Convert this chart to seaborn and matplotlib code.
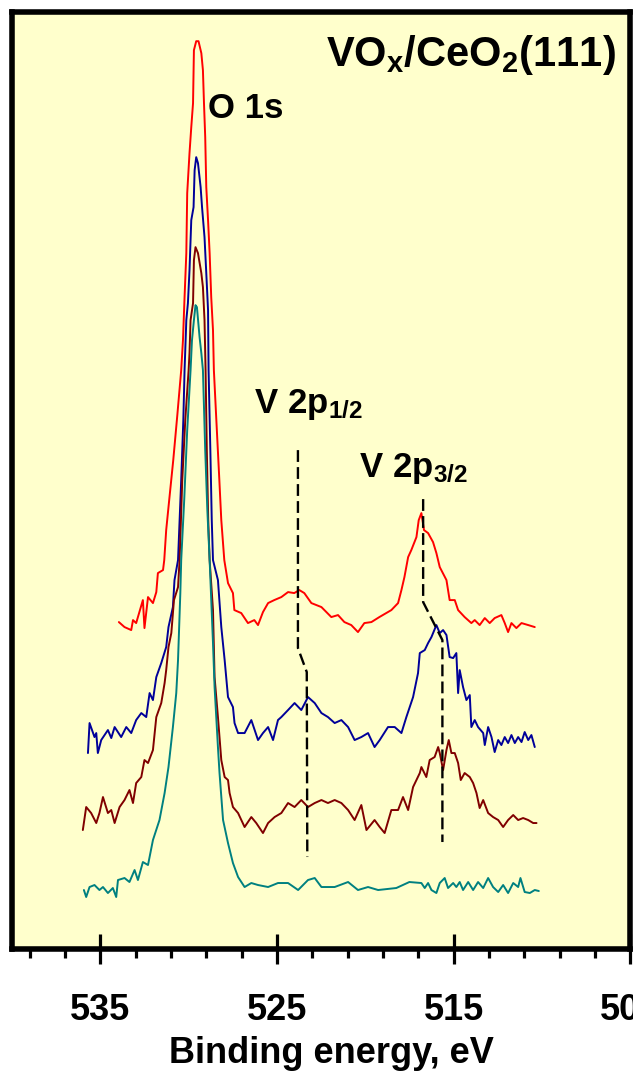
import matplotlib
matplotlib.use("Agg")
import matplotlib.pyplot as plt
import numpy as np
import pandas as pd
import seaborn as sns

sns.set_style("white")
plt.rcParams["font.family"] = ["Liberation Sans", "DejaVu Sans"]
plt.rcParams["font.weight"] = "bold"
plt.rcParams["text.color"] = "black"
plt.rcParams["axes.labelcolor"] = "black"
plt.rcParams["xtick.color"] = "black"
plt.rcParams["xtick.labelcolor"] = "black"
plt.rcParams["mathtext.fontset"] = "custom"
plt.rcParams["mathtext.bf"] = "Liberation Sans:bold"
plt.rcParams["mathtext.rm"] = "Liberation Sans:bold"
plt.rcParams["mathtext.it"] = "Liberation Sans:bold"

# ---- XPS spectra (binding energy in eV, intensity in arb. units incl. stacking offset) ----
red_ev = [533.96, 533.64, 533.26, 533.16, 532.98, 532.60, 532.51, 532.31, 532.03, 531.84, 531.75, 531.46, 531.39, 531.28, 531.11, 530.88, 530.65, 530.43, 530.33, 530.24, 530.14, 530.09, 529.96, 529.86, 529.76, 529.71, 529.58, 529.45, 529.29, 529.20, 529.14, 529.07, 529.01, 528.91, 528.82, 528.73, 528.63, 528.58, 528.44, 528.27, 528.16, 527.99, 527.78, 527.50, 527.42, 527.03, 526.65, 526.29, 526.08, 525.80, 525.51, 525.16, 524.76, 524.38, 524.03, 523.74, 523.46, 523.06, 522.49, 521.93, 521.55, 521.19, 520.80, 520.42, 520.06, 519.66, 519.21, 518.53, 518.15, 517.96, 517.79, 517.58, 517.40, 517.11, 516.98, 516.83, 516.68, 516.45, 516.17, 515.98, 515.79, 515.41, 515.23,
          514.94, 514.75, 514.38, 514.00, 513.81, 513.53, 513.24, 512.96, 512.68, 512.30, 512.11, 511.92, 511.73, 511.45, 511.16, 510.78, 510.41]
red_int = [327, 322, 319, 329, 326, 349, 321, 352, 346, 357, 376, 379, 389, 419, 449, 489, 534, 579, 609, 652, 696, 756, 796, 822, 846, 899, 908, 908, 896, 879, 846, 812, 762, 729, 696, 652, 619, 579, 529, 469, 429, 389, 366, 356, 339, 336, 326, 329, 324, 337, 346, 349, 352, 357, 356, 359, 356, 346, 342, 332, 334, 327, 324, 317, 326, 327, 332, 339, 346, 359, 372, 392, 399, 412, 429, 436, 419, 416, 407, 396, 382, 369, 349,
           349, 339, 332, 326, 329, 324, 331, 326, 331, 334, 326, 317, 326, 321, 326, 324, 322]

blue_ev = [535.71, 535.62, 535.34, 535.24, 535.15, 534.96, 534.58, 534.39, 534.20, 533.83, 533.54, 533.26, 532.98, 532.69, 532.41, 532.22, 532.03, 531.84, 531.56, 531.28, 531.15, 530.90, 530.81, 530.61, 530.43, 530.31, 530.24, 530.14, 530.05, 529.96, 529.86, 529.73, 529.67, 529.58, 529.48, 529.33, 529.25, 529.11, 529.01, 528.91, 528.88, 528.78, 528.70, 528.63, 528.35, 528.16, 527.97, 527.78, 527.50, 527.41, 527.21, 526.84, 526.46, 526.08, 525.80, 525.51, 525.23, 524.95, 524.76, 524.38, 524.01, 523.63, 523.25, 522.87, 522.49, 522.12, 521.74, 521.36, 520.98, 520.61, 520.23, 519.85, 519.48, 519.19, 518.72, 518.34, 517.96, 517.68, 517.30, 517.02, 516.92,
           516.64, 516.45, 516.26, 515.98, 515.79, 515.60, 515.41, 515.23, 515.03, 514.85, 514.75, 514.66, 514.47, 514.28, 514.09, 514.00, 513.81, 513.62, 513.33, 513.24, 513.05, 512.86, 512.68, 512.48, 512.30, 512.11, 511.92, 511.73, 511.54, 511.35, 511.16, 510.98, 510.78, 510.60, 510.41]
blue_int = [196, 226, 212, 216, 196, 209, 219, 211, 222, 212, 222, 216, 229, 236, 232, 256, 249, 272, 286, 302, 322, 342, 369, 389, 469, 529, 579, 629, 646, 679, 729, 742, 779, 792, 786, 762, 742, 712, 676, 639, 579, 499, 429, 389, 369, 322, 289, 252, 242, 226, 216, 216, 229, 209, 216, 222, 209, 229, 232, 239, 246, 239, 252, 246, 236, 232, 226, 229, 222, 209, 212, 216, 202, 209, 222, 222, 216, 232, 252, 276, 296,
            299, 306, 312, 324, 316, 319, 314, 292, 291, 296, 256, 279, 262, 249, 254, 222, 229, 222, 216, 204, 222, 212, 197, 209, 204, 212, 206, 214, 206, 212, 207, 217, 209, 214, 202]

maroon_ev = [536.00, 535.81, 535.53, 535.24, 535.06, 534.86, 534.58, 534.39, 534.20, 533.92, 533.64, 533.36, 533.16, 532.98, 532.69, 532.51, 532.31, 532.03, 531.84, 531.56, 531.37, 531.28, 531.15, 530.99, 530.84, 530.61, 530.52, 530.37, 530.20, 530.01, 529.96, 529.90, 529.76, 529.71, 529.62, 529.48, 529.29, 529.20, 529.11, 529.05, 528.98, 528.90, 528.82, 528.63, 528.54, 528.35, 528.16, 527.97, 527.78, 527.69, 527.50, 527.21, 526.84, 526.46, 526.18, 525.80, 525.51, 525.14, 524.76, 524.38, 524.01, 523.63, 523.25, 522.87, 522.49, 522.12, 521.74, 521.36, 520.98, 520.61, 520.23, 519.94, 519.48, 519.19, 518.91, 518.53, 518.15, 517.87, 517.58, 517.30, 516.92,
             516.83, 516.55, 516.36, 516.08, 515.88, 515.79, 515.60, 515.41, 515.28, 515.13, 514.94, 514.75, 514.60, 514.38, 514.09, 513.90, 513.71, 513.53, 513.33, 513.05, 512.77, 512.48, 512.20, 511.92, 511.63, 511.35, 511.07, 510.78, 510.50, 510.31]
maroon_int = [119, 142, 136, 126, 136, 152, 136, 139, 126, 142, 149, 159, 146, 166, 172, 189, 186, 199, 232, 246, 266, 279, 302, 316, 349, 362, 389, 469, 529, 579, 596, 629, 646, 689, 702, 696, 676, 662, 629, 579, 499, 429, 389, 339, 272, 232, 189, 172, 169, 156, 142, 136, 122, 132, 126, 116, 126, 132, 136, 146, 142, 149, 142, 146, 149, 146, 149, 146, 139, 129, 144, 119, 129, 122, 116, 139, 139, 152, 139, 162, 176,
              182, 172, 189, 192, 202, 196, 179, 199, 209, 196, 196, 186, 169, 176, 172, 166, 156, 141, 149, 136, 132, 129, 122, 129, 134, 129, 131, 129, 126, 126]

teal_ev = [535.94, 535.81, 535.62, 535.34, 535.06, 534.86, 534.58, 534.30, 534.11, 534.01, 533.64, 533.36, 533.07, 532.88, 532.60, 532.31, 532.03, 531.66, 531.37, 531.15, 530.90, 530.71, 530.61, 530.48, 530.43, 530.26, 530.09, 529.90, 529.82, 529.71, 529.62, 529.54, 529.39, 529.29, 529.20, 529.07, 528.95, 528.82, 528.63, 528.54, 528.35, 528.26, 528.06, 527.78, 527.50, 527.21, 526.84, 526.46, 526.08, 525.51, 524.95, 524.38, 523.81, 523.25, 522.87, 522.49, 521.74, 520.98, 520.42, 519.85, 519.28, 518.25, 517.51,
           516.83, 516.64, 516.45, 516.26, 515.98, 515.79, 515.51, 515.32, 515.03, 514.85, 514.66, 514.47, 514.18, 513.90, 513.62, 513.33, 513.05, 512.77, 512.48, 512.20, 511.92, 511.63, 511.35, 511.22, 510.98, 510.69, 510.41, 510.18]
teal_int = [59, 52, 62, 64, 59, 62, 56, 61, 52, 69, 71, 67, 79, 69, 87, 84, 109, 129, 156, 182, 222, 256, 289, 356, 389, 449, 519, 579, 609, 629, 644, 642, 612, 596, 579, 499, 439, 389, 306, 262, 202, 176, 129, 106, 86, 72, 62, 66, 64, 62, 66, 66, 59, 69, 71, 62, 62, 67, 59, 62, 59, 61, 67,
            66, 61, 66, 59, 56, 66, 71, 61, 66, 62, 67, 59, 67, 59, 67, 61, 71, 62, 57, 64, 56, 66, 62, 71, 57, 56, 59, 58]

# dashed guides following the V 2p peak positions
v2p12_guide_ev = [523.82, 523.82, 523.32, 523.29]
v2p12_guide_int = [499, 301, 277, 92]
v2p32_guide_ev = [516.73, 516.73, 515.64, 515.64]
v2p32_guide_int = [450, 347, 309, 107]

major_ticks = [535, 525, 515, 505]
minor_ticks = list(range(505, 541, 2))

series = {
    "red": (red_ev, red_int),
    "blue": (blue_ev, blue_int),
    "maroon": (maroon_ev, maroon_int),
    "teal": (teal_ev, teal_int),
}
palette = {"red": "#FF0000", "blue": "#000099", "maroon": "#800000", "teal": "#008080"}

frames = []
for name, (ev, inten) in series.items():
    frames.append(pd.DataFrame({"energy": ev, "intensity": inten, "spectrum": name}))
df = pd.concat(frames, ignore_index=True)

fig = plt.figure(figsize=(6.33, 10.73), dpi=100)
ax = fig.add_axes([0.01927, 0.11556, 0.97646, 0.87307])
ax.set_facecolor("#FFFFCC")

sns.lineplot(data=df, x="energy", y="intensity", hue="spectrum",
             hue_order=list(series.keys()), palette=palette,
             estimator=None, errorbar=None, legend=False, linewidth=1.4, ax=ax)

for gx, gy in ((v2p12_guide_ev, v2p12_guide_int), (v2p32_guide_ev, v2p32_guide_int)):
    ax.plot(gx, gy, color="black", linewidth=1.7, dashes=(5, 2.2))

ax.set_xlim(540, 505)
ax.set_ylim(0, 937)

ax.set_xticks(major_ticks)
ax.set_xticks(minor_ticks, minor=True)
ax.set_yticks([])
ax.tick_params(axis="x", which="major", direction="inout", length=21.6, width=2.3,
               pad=20.9, labelsize=26, color="black", labelcolor="black",
               bottom=True, top=False)
ax.tick_params(axis="x", which="minor", direction="out", length=6.5, width=2.3,
               color="black", bottom=True, top=False)
ax.tick_params(axis="y", left=False, labelleft=False)

for s in ax.spines.values():
    s.set_visible(True)
    s.set_linewidth(4.0)
    s.set_color("black")

ax.set_ylabel("")
ax.set_xlabel("Binding energy, eV", fontsize=26, fontweight="bold", color="black")
ax.xaxis.set_label_coords(0.516, -0.1217)
ax.xaxis.label.set_va("baseline")

ax.text(0.976, 0.943, r"$\mathbf{VO_x/CeO_2(111)}$", transform=ax.transAxes,
        ha="right", va="baseline", fontsize=30, color="black")
ax.text(528.90, 831, "O 1s", ha="left", va="baseline", fontsize=25,
        fontweight="bold", color="black")
ax.text(526.29, 536, r"$\mathbf{V\ 2p_{1/2}}$", ha="left", va="baseline",
        fontsize=25, color="black")
ax.text(520.34, 472, r"$\mathbf{V\ 2p_{3/2}}$", ha="left", va="baseline",
        fontsize=25, color="black")

fig.savefig("out.png", dpi=100)
